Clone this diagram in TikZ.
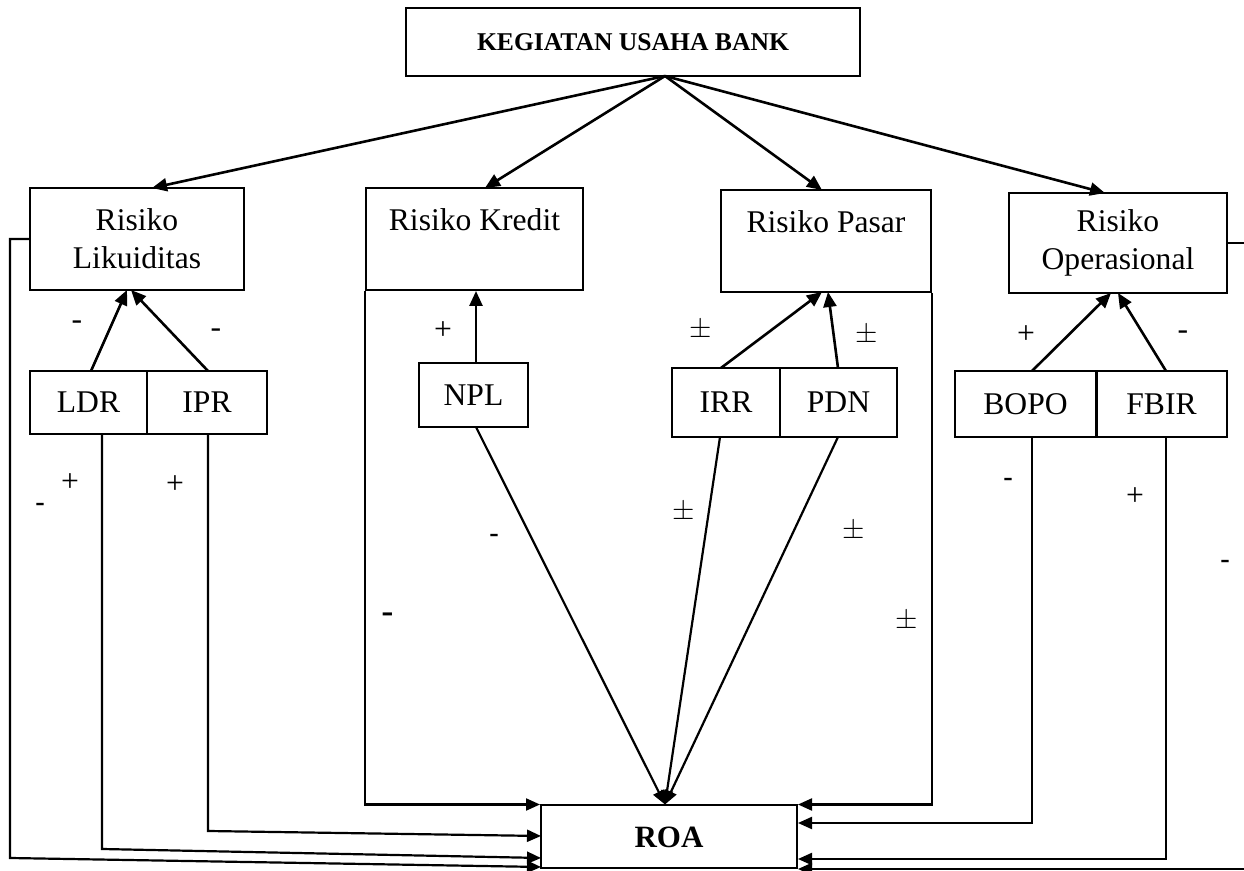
\documentclass[tikz,border=0pt]{standalone}
\usepackage{fontspec}
\setmainfont{Liberation Serif}
\newfontfamily\sansf{Liberation Sans}
\usetikzlibrary{arrows.meta}
\newcommand{\mainsz}{\fontsize{15.8}{19}\selectfont}
\newcommand{\titlesz}{\fontsize{12.8}{15}\selectfont}
\newcommand{\roasz}{\fontsize{15.5}{18}\selectfont}
\begin{document}
\begin{tikzpicture}[x=0.5pt,y=-0.5pt,
  box/.style={draw,line width=1pt,inner sep=0pt,align=center,font=\mainsz},
  arr/.style={-{Triangle[length=7.5pt,width=6.5pt]},line width=1.3pt},
  route/.style={-{Triangle[length=7pt,width=6pt]},line width=1.1pt},
  lab/.style={inner sep=0pt,font=\mainsz},
  slab/.style={inner sep=0pt,font=\sansf\fontsize{15}{17}\selectfont},
  blab/.style={inner sep=0pt,font=\sansf\fontsize{19}{21}\selectfont}]
\useasboundingbox (0,0) rectangle (1244,871);
\clip (0,0) rectangle (1244,871);

% boxes
\node[box,minimum width=227pt,minimum height=34pt,font=\titlesz\bfseries] (top) at (633,42) {KEGIATAN USAHA BANK};
\node[box,minimum width=107pt,minimum height=51pt] (likuid) at (137,239) {Risiko\\Likuiditas};
\node[box,minimum width=108.5pt,minimum height=51pt] (kredit) at (474.5,239) {Risiko Kredit\\~};
\node[box,minimum width=105pt,minimum height=51pt] (pasar) at (826,241) {Risiko Pasar\\~};
\node[box,minimum width=109pt,minimum height=50pt] (operas) at (1118,243) {Risiko\\Operasional};
\node[box,minimum width=58.5pt,minimum height=31.5pt] (ldr) at (88.5,402.5) {LDR};
\node[box,minimum width=60pt,minimum height=31.5pt] (ipr) at (207,402.5) {IPR};
\node[box,minimum width=54.5pt,minimum height=32pt] (npl) at (473.5,395) {NPL};
\node[box,minimum width=54pt,minimum height=34.5pt] (irr) at (726,402.5) {IRR};
\node[box,minimum width=58.5pt,minimum height=34.5pt] (pdn) at (838.5,402.5) {PDN};
\node[box,minimum width=70.5pt,minimum height=33pt] (bopo) at (1025.5,404) {BOPO};
\node[box,minimum width=65pt,minimum height=33pt] (fbir) at (1161.5,404) {FBIR};
\node[box,minimum width=128pt,minimum height=31.5pt,font=\roasz\bfseries] (roa) at (669,837) {ROA};

% helper coordinates
\coordinate (o) at (665,76);
\coordinate (tL) at (152,188);
\coordinate (tK) at (485,188);
\coordinate (tP) at (822,190);
\coordinate (tO) at (1105,193);
\coordinate (lA) at (91,371);
\coordinate (lT) at (127,290);
\coordinate (iA) at (208,371);
\coordinate (iT) at (131,290);
\coordinate (nA) at (476,363);
\coordinate (rA) at (721,368);
\coordinate (rT) at (822,292);
\coordinate (pA) at (838,368);
\coordinate (pT) at (828,292);
\coordinate (bA) at (1032,371);
\coordinate (bT) at (1111,293);
\coordinate (fA) at (1166,371);
\coordinate (fT) at (1118,293);
\coordinate (nB) at (476,427);
\coordinate (rB) at (720,437);
\coordinate (pB) at (838,437);
\coordinate (cI1) at (208,831);
\coordinate (cI2) at (541,836);
\coordinate (cL1) at (102,849);
\coordinate (cL2) at (541,858);
\coordinate (cO1) at (10,858);
\coordinate (cO2) at (541,867);
\coordinate (cB1) at (1032,823);
\coordinate (cF1) at (1166,859);
\coordinate (cR1) at (1254,869);

% top arrows
\draw[arr] (o) -- (tL);
\draw[arr] (o) -- (tK);
\draw[arr] (o) -- (tP);
\draw[arr] (o) -- (tO);

% indicator arrows to risks
\draw[arr] (lA) -- (lT);
\draw[arr] (iA) -- (iT);
\draw[arr] (nA) -- (kredit.south -| nA);
\draw[arr] (rA) -- (rT);
\draw[arr] (pA) -- (pT);
\draw[arr] (bA) -- (bT);
\draw[arr] (fA) -- (fT);

% to ROA top
\draw[route] (nB) -- (roa.north -| o);
\draw[route] (rB) -- (roa.north -| o);
\draw[route] (pB) -- (roa.north -| o);

% routed lines
\draw[route] (kredit.south west) |- (roa.north west);
\draw[route] (pasar.south east) |- (roa.north east);
\draw[route] (ipr.south -| cI1) -- (cI1) -- (cI2);
\draw[route] (ldr.south -| cL1) -- (cL1) -- (cL2);
\draw[route] (likuid.west) -| (cO1) -- (cO2);
\draw[route] (bopo.south -| cB1) -- (cB1) -- (roa.east |- cB1);
\draw[route] (fbir.south -| cF1) -- (cF1) -- (roa.east |- cF1);
\draw[route] (operas.east) -| (cR1) -- (roa.east |- cR1);

% labels
\node[lab] (s1) at (77,325) {-};
\node[lab] (s2) at (216,333) {-};
\node[lab] (s3) at (443,331) {+};
\node[lab] (s4) at (701,330) {$\pm$};
\node[lab] (s5) at (867,335) {$\pm$};
\node[lab] (s6) at (1026,335) {+};
\node[lab] (s7) at (1183,335) {-};
\node[lab] (s8) at (70,483) {+};
\node[slab] (s9) at (40,508) {-};
\node[lab] (s10) at (175,485) {+};
\node[slab] (s11) at (494,539) {-};
\node[lab] (s12) at (684,512) {$\pm$};
\node[lab] (s13) at (854,531) {$\pm$};
\node[blab] (s14) at (388,619) {-};
\node[lab] (s15) at (907,621) {$\pm$};
\node[slab] (s16) at (1008,483) {-};
\node[lab] (s17) at (1135,497) {+};
\node[slab] (s18) at (1225,565) {-};
\end{tikzpicture}
\end{document}
